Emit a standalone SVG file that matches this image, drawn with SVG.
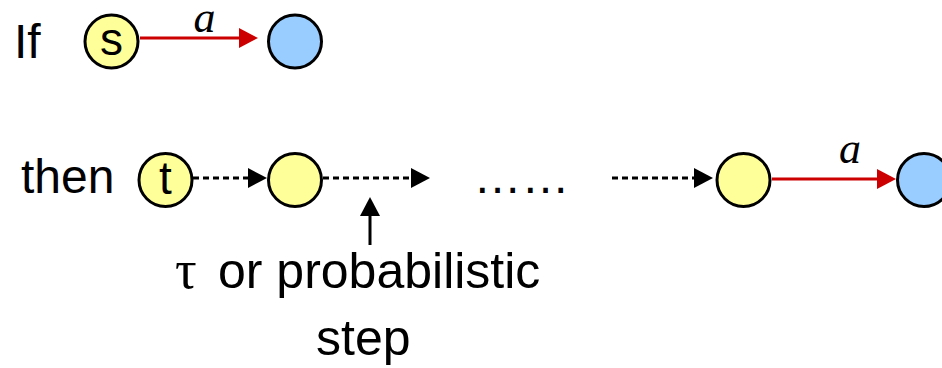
<svg xmlns="http://www.w3.org/2000/svg" width="942" height="368" viewBox="0 0 942 368">
  <style>
    .sans { font-family: "Liberation Sans", Arial, sans-serif; fill: #000; }
    .ital { font-family: "Liberation Serif", "Times New Roman", serif; font-style: italic; fill: #000; }
    .yellow { fill: #FFFF99; stroke: #000; stroke-width: 3; }
    .blue { fill: #99CCFF; stroke: #000; stroke-width: 3; }
    .dash { fill: none; stroke: #000; stroke-width: 3; stroke-dasharray: 6 4; }
    .red { fill: none; stroke: #CC0000; stroke-width: 3; }
    .solid { fill: none; stroke: #000; stroke-width: 3; }
  </style>
  <defs>
    <marker id="headBlack" markerUnits="userSpaceOnUse" markerWidth="20" markerHeight="20" refX="0" refY="10" orient="auto" viewBox="0 0 20 20">
      <path d="M0,0 L19,10 L0,20 z" fill="#000"/>
    </marker>
    <marker id="headRed" markerUnits="userSpaceOnUse" markerWidth="20" markerHeight="20" refX="0" refY="10" orient="auto" viewBox="0 0 20 20">
      <path d="M0,0 L19,10 L0,20 z" fill="#CC0000"/>
    </marker>
  </defs>

  <!-- row labels -->
  <text class="sans" x="14" y="58" font-size="48">If</text>
  <text class="sans" x="21" y="193" font-size="48">then</text>

  <!-- connectors -->
  <g id="connectors">
    <path class="red" d="M140,38 H239" marker-end="url(#headRed)"/>
    <text class="ital" x="204.5" y="32" font-size="44" text-anchor="middle">a</text>

    <path class="dash" d="M193,178 H248" marker-end="url(#headBlack)"/>
    <path class="dash" d="M323,178 H411" marker-end="url(#headBlack)"/>
    <path class="dash" d="M612,178 H694" marker-end="url(#headBlack)"/>
    <path class="red" d="M772,179 H877" marker-end="url(#headRed)"/>
    <text class="ital" x="850" y="163" font-size="44" text-anchor="middle">a</text>

    <path class="solid" d="M370,245 V216" marker-end="url(#headBlack)"/>
  </g>

  <!-- top row -->
  <g id="node-s">
    <circle class="yellow" cx="111.5" cy="41.5" r="26.5"/>
    <text class="sans" x="111.5" y="55" font-size="46" text-anchor="middle">s</text>
  </g>
  <g id="node-s-target">
    <circle class="blue" cx="295" cy="41.5" r="26.5"/>
  </g>

  <!-- bottom row -->
  <g id="node-t">
    <circle class="yellow" cx="165.5" cy="180" r="26.5"/>
    <text class="sans" x="165.5" y="194" font-size="46" text-anchor="middle">t</text>
  </g>
  <g id="node-t1">
    <circle class="yellow" cx="295" cy="180" r="26.5"/>
  </g>
  <g id="ellipsis">
    <text class="sans" x="521.5" y="193" font-size="48" text-anchor="middle">……</text>
  </g>
  <g id="node-tn">
    <circle class="yellow" cx="743.5" cy="180" r="26.5"/>
  </g>
  <g id="node-t-target">
    <circle class="blue" cx="924" cy="180" r="26.5"/>
  </g>

  <!-- annotation -->
  <g id="note">
    <text x="175" y="288" font-size="54" font-family="Liberation Serif, Times New Roman, serif">τ</text>
    <text class="sans" x="218" y="288" font-size="50">or probabilistic</text>
    <text class="sans" x="316" y="355" font-size="50">step</text>
  </g>
</svg>
